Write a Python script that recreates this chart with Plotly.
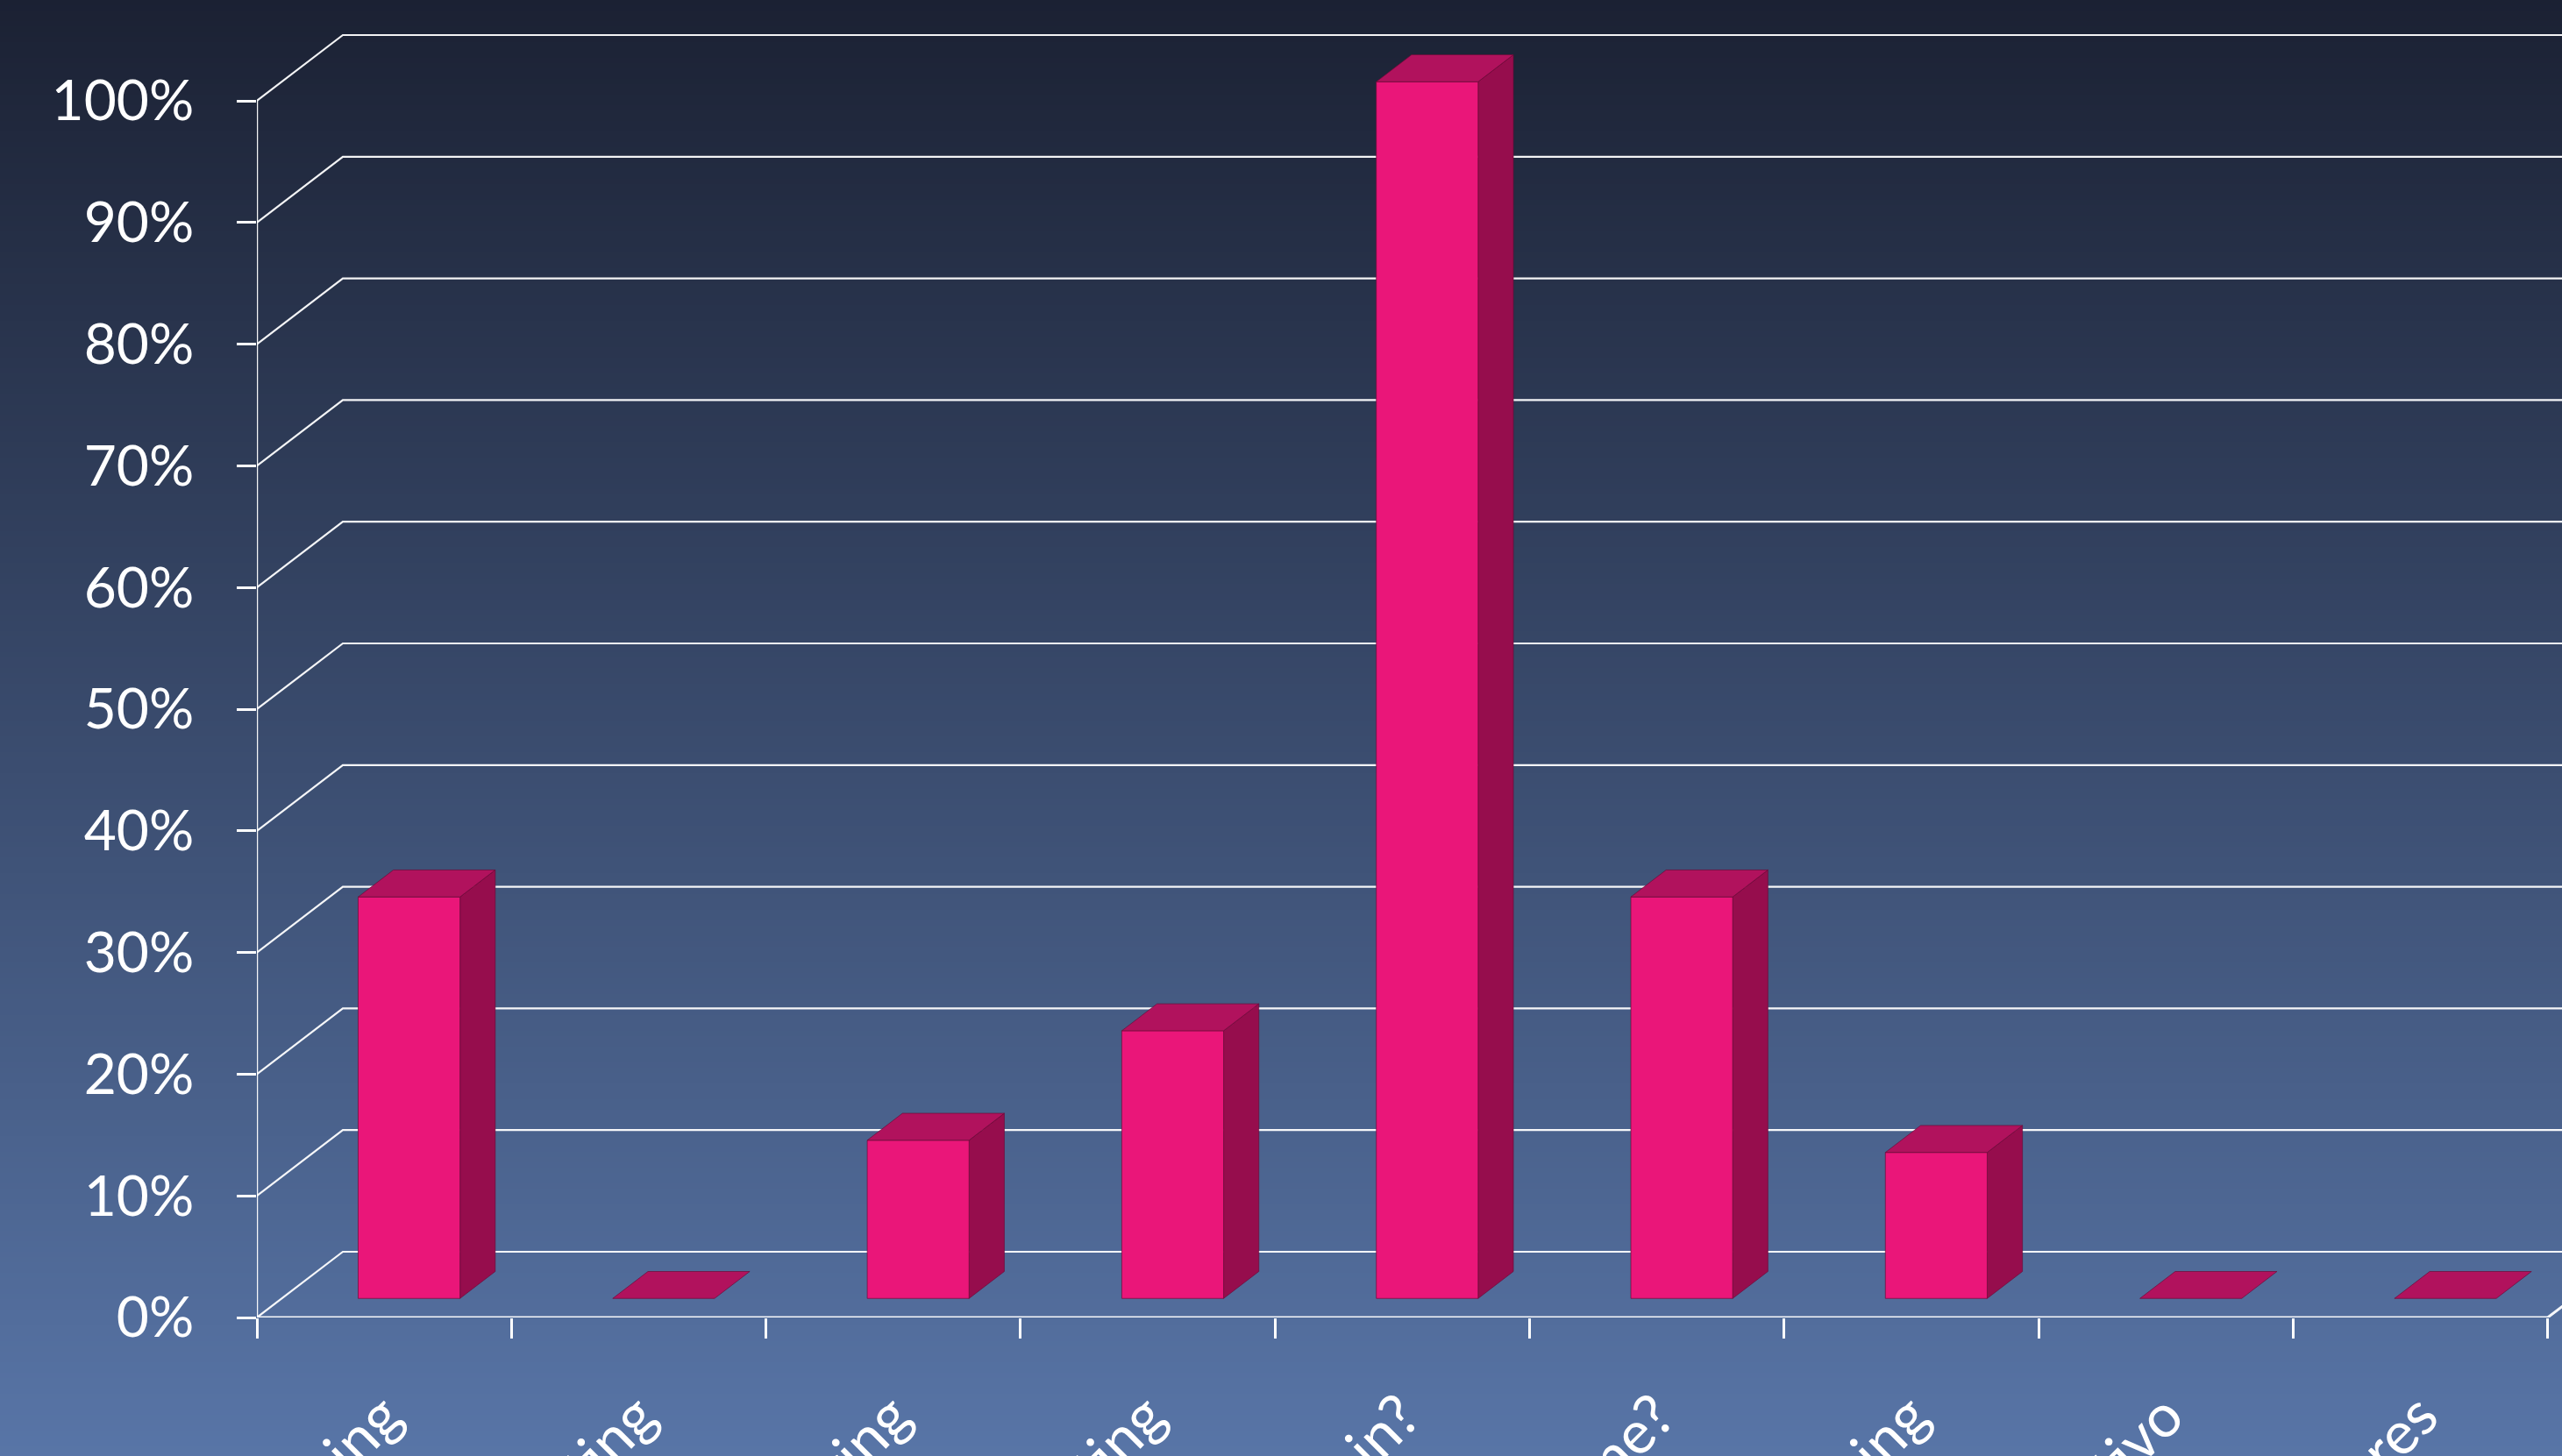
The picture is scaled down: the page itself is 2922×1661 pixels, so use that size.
import plotly.graph_objects as go

# ---------------- data ----------------
categories = [
    "Pair Programming",
    "Continuous Integration Testing",
    "Refactoring",
    "Unit Testing",
    "¿Daily Stand-up, who's in?",
    "¿Definition of Done?",
    "Release Planning",
    "Desarrollo iterativo",
    "Otros factores",
]
values = [33, 0, 13, 22, 100, 33, 12, 0, 0]
y_ticks = [0, 10, 20, 30, 40, 50, 60, 70, 80, 90, 100]
y_tick_labels = [f"{v}%" for v in y_ticks]

# ---------------- geometry / style ----------------
W, H = 2922, 1661
ML, MB = 293, 158
PLOT_W, PLOT_H = W - ML, H - MB
CAT_PX = 290.3
PCT_PX = 13.88
X0 = -0.5
X_MAX = X0 + PLOT_W / CAT_PX
Y_MAX = PLOT_H / PCT_PX
N = len(categories)

DX = 98 / CAT_PX      # depth offset in category units
DY = 75 / PCT_PX      # depth offset in percent units
BAR_W = 0.40
F0 = 0.29             # bar front position in depth
BD = 0.41             # bar depth fraction

FRONT = "#EA1679"
SIDE = "#960D4D"
TOP = "#B1125D"
EDGE = "rgba(110,10,55,0.7)"
GRID = "rgba(255,255,255,0.95)"
FONT = "Lato, 'Open Sans', sans-serif"

fig = go.Figure()

# background gradient bands
top_c = (27, 33, 51)
bot_c = (88, 117, 167)
step = 6
shapes = []
for p in range(0, H, step):
    t = (p + step / 2) / H
    c = tuple(round(top_c[k] + (bot_c[k] - top_c[k]) * t) for k in range(3))
    shapes.append(dict(
        type="rect", xref="paper", yref="paper", layer="below",
        x0=-ML / PLOT_W, x1=1.0,
        y0=1 - (p + step + 1) / PLOT_H, y1=1 - p / PLOT_H,
        line=dict(width=0), fillcolor=f"rgb{c}",
    ))

# gridlines: left wall diagonal + back wall horizontal
gx, gy = [], []
for v in y_ticks:
    gx += [X0, X0 + DX, X_MAX + 1, None]
    gy += [v, v + DY, v + DY, None]
fig.add_trace(go.Scatter(x=gx, y=gy, mode="lines",
                         line=dict(color=GRID, width=2.2),
                         hoverinfo="skip", showlegend=False))

# front vertical axis line
fig.add_trace(go.Scatter(x=[X0, X0], y=[0, y_ticks[-1]], mode="lines",
                         line=dict(color=GRID, width=2.5),
                         hoverinfo="skip", showlegend=False, cliponaxis=False))

# floor front line + right diagonal
x_end = X0 + N
fig.add_trace(go.Scatter(x=[X0, x_end, x_end + DX], y=[0, 0, DY], mode="lines",
                         line=dict(color=GRID, width=3),
                         hoverinfo="skip", showlegend=False, cliponaxis=False))

# bars
fx, fy, sx, sy, tx, ty = [], [], [], [], [], []
for i, v in enumerate(values):
    x0 = i - BAR_W / 2 + F0 * DX
    x1 = i + BAR_W / 2 + F0 * DX
    b = F0 * DY
    ddx = BD * DX
    ddy = BD * DY
    if v > 0:
        fx += [x0, x1, x1, x0, x0, None]
        fy += [b, b, b + v, b + v, b, None]
        sx += [x1, x1 + ddx, x1 + ddx, x1, x1, None]
        sy += [b, b + ddy, b + ddy + v, b + v, b, None]
    tx += [x0, x1, x1 + ddx, x0 + ddx, x0, None]
    ty += [b + v, b + v, b + v + ddy, b + v + ddy, b + v, None]

for xs, ys, col in [(sx, sy, SIDE), (fx, fy, FRONT), (tx, ty, TOP)]:
    fig.add_trace(go.Scatter(x=xs, y=ys, mode="lines", fill="toself",
                             fillcolor=col, line=dict(color=EDGE, width=1),
                             hoverinfo="skip", showlegend=False))

fig.update_layout(
    width=W, height=H,
    margin=dict(l=ML, r=0, t=0, b=MB, autoexpand=False),
    paper_bgcolor="rgb(60,78,112)",
    plot_bgcolor="rgba(0,0,0,0)",
    shapes=shapes,
    showlegend=False,
    xaxis=dict(
        range=[X0, X_MAX], showgrid=False, zeroline=False, showline=False,
        automargin=False,
        tickmode="array", tickvals=list(range(N)), ticktext=categories,
        tickangle=-45, ticks="", ticklabelstandoff=58,
        tickfont=dict(family=FONT, size=68, color="white"),
        minor=dict(tickmode="array", tickvals=[X0 + k for k in range(N + 1)],
                   ticks="outside", ticklen=23, tickwidth=2.5, tickcolor="white",
                   showgrid=False),
    ),
    yaxis=dict(
        range=[0, Y_MAX], showgrid=False, zeroline=False, showline=False,
        automargin=False,
        tickmode="array", tickvals=y_ticks, ticktext=y_tick_labels,
        ticks="outside", ticklen=22, tickwidth=2.5, tickcolor="white",
        ticklabelstandoff=36,
        tickfont=dict(family=FONT, size=64, color="white"),
    ),
)

fig.write_html("out.html")
